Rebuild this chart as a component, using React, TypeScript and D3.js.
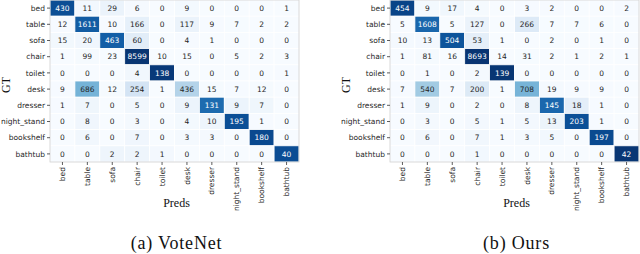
import * as d3 from 'd3';

const CLASSES = ['bed', 'table', 'sofa', 'chair', 'toilet', 'desk', 'dresser', 'night_stand', 'bookshelf', 'bathtub'];

// rows = ground truth, columns = predictions
const VOTENET = [
  [430, 11, 29, 6, 0, 9, 0, 0, 0, 1],
  [12, 1611, 10, 166, 0, 117, 9, 7, 2, 2],
  [15, 20, 463, 60, 0, 4, 1, 0, 0, 0],
  [1, 99, 23, 8599, 10, 15, 0, 5, 2, 3],
  [0, 0, 0, 4, 138, 0, 0, 0, 0, 1],
  [9, 686, 12, 254, 1, 436, 15, 7, 12, 0],
  [1, 7, 0, 5, 0, 9, 131, 9, 7, 0],
  [0, 8, 0, 3, 0, 4, 10, 195, 1, 0],
  [0, 6, 0, 7, 0, 3, 3, 0, 180, 0],
  [0, 0, 2, 2, 1, 0, 0, 0, 0, 40],
];

const OURS = [
  [454, 9, 17, 4, 0, 3, 2, 0, 0, 2],
  [5, 1608, 5, 127, 0, 266, 7, 7, 6, 0],
  [10, 13, 504, 53, 1, 0, 2, 0, 1, 0],
  [1, 81, 16, 8693, 14, 31, 2, 1, 2, 1],
  [0, 1, 0, 2, 139, 0, 0, 0, 0, 0],
  [7, 540, 7, 200, 1, 708, 19, 9, 9, 0],
  [1, 9, 0, 2, 0, 8, 145, 18, 1, 0],
  [0, 3, 0, 5, 1, 5, 13, 203, 1, 0],
  [0, 6, 0, 7, 1, 3, 5, 0, 197, 0],
  [0, 0, 0, 1, 0, 0, 0, 0, 0, 42],
];

const CAPTIONS = ['(a) VoteNet', '(b) Ours'];

const WIDTH = 640;
const HEIGHT = 254;
const TOP = 0;
const BOTTOM = 162;
const SANS = '"DejaVu Sans", sans-serif';
const SERIF = '"Liberation Serif", serif';

const color = d3.scaleSequential(d3.interpolateBlues).domain([0, 1]);

function Matrix({ data, left, right, caption }: { data: number[][]; left: number; right: number; caption: string }) {
  const x = d3.scaleBand().domain(CLASSES).range([left, right]);
  const y = d3.scaleBand().domain(CLASSES).range([TOP, BOTTOM]);
  const mid = (left + right) / 2 + 2;

  return (
    <g>
      {data.map((row, i) => {
        const total = d3.sum(row);
        return row.map((v, j) => {
          const r = total ? v / total : 0;
          const cx = x(CLASSES[j])!;
          const cy = y(CLASSES[i])!;
          return (
            <g key={`${i}-${j}`}>
              <rect x={cx} y={cy} width={x.bandwidth()} height={y.bandwidth()} fill={color(r)} stroke="#fff" strokeWidth={0.8} />
              <text
                x={cx + x.bandwidth() / 2}
                y={cy + y.bandwidth() / 2}
                dy="0.35em"
                textAnchor="middle"
                fontFamily={SANS}
                fontSize={7.5}
                fill={r > 0.6 ? '#fff' : '#262626'}
              >
                {v}
              </text>
            </g>
          );
        });
      })}
      <rect x={left} y={TOP} width={right - left} height={BOTTOM - TOP} fill="none" stroke="#d0d0d0" strokeWidth={0.8} />

      {CLASSES.map(c => (
        <g key={`r-${c}`}>
          <line x1={left - 3} x2={left} y1={y(c)! + y.bandwidth() / 2} y2={y(c)! + y.bandwidth() / 2} stroke="#333" strokeWidth={0.8} />
          <text x={left - 5} y={y(c)! + y.bandwidth() / 2} dy="0.35em" textAnchor="end" fontFamily={SANS} fontSize={7.5} fill="#262626">
            {c}
          </text>
        </g>
      ))}

      {CLASSES.map(c => {
        const cx = x(c)! + x.bandwidth() / 2;
        return (
          <g key={`c-${c}`}>
            <line x1={cx} x2={cx} y1={BOTTOM} y2={BOTTOM + 3} stroke="#333" strokeWidth={0.8} />
            <text
              transform={`translate(${cx},${BOTTOM + 5}) rotate(-90)`}
              dy="0.35em"
              textAnchor="end"
              fontFamily={SANS}
              fontSize={7.5}
              fill="#262626"
            >
              {c}
            </text>
          </g>
        );
      })}

      <text transform={`translate(${left - 40},${(TOP + BOTTOM) / 2 + 4}) rotate(-90)`} textAnchor="middle" fontFamily={SERIF} fontSize={12} fill="#111">
        GT
      </text>
      <text x={mid} y={207} textAnchor="middle" fontFamily={SERIF} fontSize={12} fill="#111">
        Preds
      </text>
      <text x={mid} y={249} textAnchor="middle" fontFamily={SERIF} fontSize={18} letterSpacing={0.8} fill="#111">
        {caption}
      </text>
    </g>
  );
}

export default function App() {
  return (
    <svg
      width={WIDTH}
      height={HEIGHT}
      viewBox={`0 0 ${WIDTH} ${HEIGHT}`}
      style={{ position: 'absolute', left: 0, top: 0, background: '#fff' }}
    >
      <Matrix data={VOTENET} left={50} right={299} caption={CAPTIONS[0]} />
      <Matrix data={OURS} left={390} right={639} caption={CAPTIONS[1]} />
    </svg>
  );
}
